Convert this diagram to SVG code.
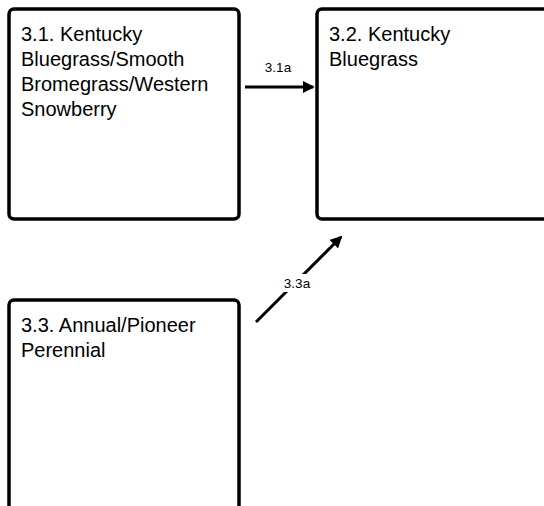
<svg xmlns="http://www.w3.org/2000/svg" width="544" height="506" viewBox="0 0 544 506">
<style>
.box{fill:#fff;stroke:#000;stroke-width:3.5}
.t{font-family:"Liberation Sans",Arial,sans-serif;font-size:20px;fill:#000}
.l{font-family:"Liberation Sans",Arial,sans-serif;font-size:13.5px;fill:#000;text-anchor:middle}
.c{stroke:#000;stroke-width:3;fill:none;marker-end:url(#ah)}
</style>
<defs>
<marker id="ah" markerWidth="4" markerHeight="4" refX="3.4" refY="2" orient="auto" markerUnits="strokeWidth">
<path d="M0,0 L4,2 L0,4 Z" fill="#000"/>
</marker>
</defs>
<rect width="544" height="506" fill="#fff"/>
<g id="node-3-1">
<rect class="box" x="9" y="9" width="230" height="210" rx="5"/>
<text class="t"><tspan x="21" y="41">3.1. Kentucky</tspan><tspan x="21" y="66">Bluegrass/Smooth</tspan><tspan x="21" y="91">Bromegrass/Western</tspan><tspan x="21" y="116">Snowberry</tspan></text>
</g>
<g id="node-3-2">
<rect class="box" x="317" y="9" width="250" height="210" rx="5"/>
<text class="t"><tspan x="329" y="41">3.2. Kentucky</tspan><tspan x="329" y="66">Bluegrass</tspan></text>
</g>
<g id="node-3-3">
<rect class="box" x="9" y="300" width="230" height="230" rx="5"/>
<text class="t"><tspan x="21" y="332">3.3. Annual/Pioneer</tspan><tspan x="21" y="357">Perennial</tspan></text>
</g>
<g id="connectors">
<line class="c" x1="245" y1="87" x2="313" y2="87"/>
<text class="l" x="278" y="72">3.1a</text>
<line class="c" x1="256" y1="322" x2="341" y2="237"/>
<rect x="281" y="274" width="32" height="18" fill="#fff"/>
<text class="l" x="297" y="288">3.3a</text>
</g>
</svg>
